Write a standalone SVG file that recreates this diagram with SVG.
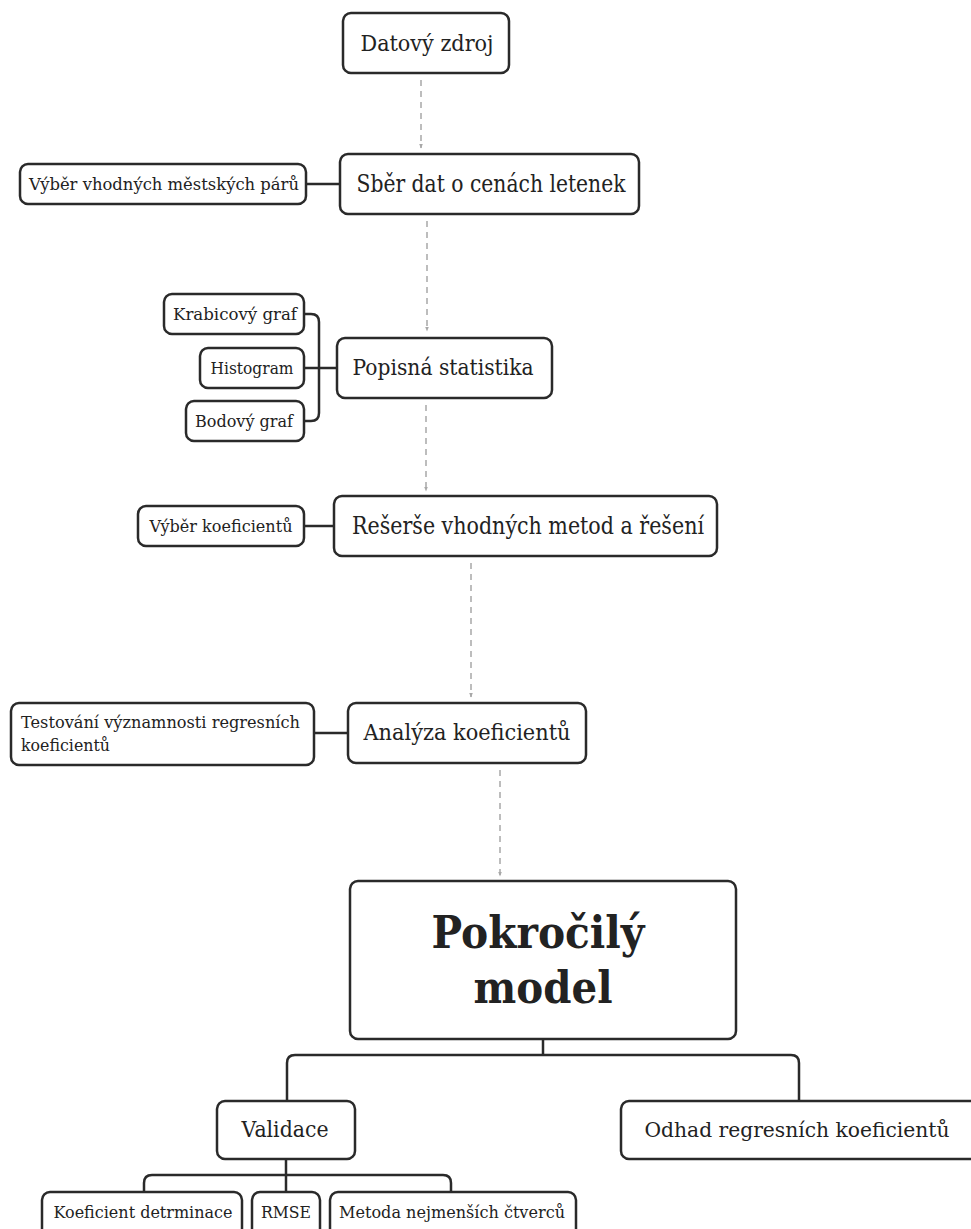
<svg xmlns="http://www.w3.org/2000/svg" width="971" height="1229" viewBox="0 0 971 1229">
<defs>
<marker id="ah" viewBox="0 0 10 10" refX="9" refY="5" markerWidth="5" markerHeight="5" orient="auto" markerUnits="userSpaceOnUse">
<path d="M0,1 L10,5 L0,9 z" fill="#a8a8a8"/>
</marker>
<style>
.box{fill:#fff;stroke:#2a2a2a;stroke-width:2.5}
.t{font-family:"DejaVu Serif","Liberation Serif",serif;fill:#222;text-anchor:middle}
.tl{font-family:"DejaVu Serif","Liberation Serif",serif;fill:#222}
.b{font-weight:bold}
.dash{fill:none;stroke:#a8a8a8;stroke-width:1.5;stroke-dasharray:6 5}
.solid{fill:none;stroke:#2a2a2a;stroke-width:2.5}
</style>
</defs>
<rect width="971" height="1229" fill="#fff"/>
<g id="connectors">
<line class="dash" x1="421" y1="80" x2="421" y2="148" marker-end="url(#ah)"/>
<line class="dash" x1="427" y1="221" x2="427" y2="331" marker-end="url(#ah)"/>
<line class="dash" x1="426" y1="405" x2="426" y2="491" marker-end="url(#ah)"/>
<line class="dash" x1="471" y1="563" x2="471" y2="697" marker-end="url(#ah)"/>
<line class="dash" x1="500" y1="770" x2="500" y2="876" marker-end="url(#ah)"/>
<line class="solid" x1="306" y1="184" x2="340" y2="184"/>
<path class="solid" d="M304,314 H311 Q319,314 319,322 V413 Q319,421 311,421 H304"/>
<line class="solid" x1="304" y1="368" x2="337" y2="368"/>
<line class="solid" x1="304" y1="526" x2="334" y2="526"/>
<line class="solid" x1="314" y1="733" x2="348" y2="733"/>
<line class="solid" x1="543" y1="1039" x2="543" y2="1055"/>
<path class="solid" d="M287,1101 V1063 Q287,1055 295,1055 H791 Q799,1055 799,1063 V1101"/>
<line class="solid" x1="286" y1="1159" x2="286" y2="1192"/>
<path class="solid" d="M144,1192 V1183 Q144,1175 152,1175 H443 Q451,1175 451,1183 V1192"/>
</g>
<g id="n-datovy-zdroj">
<rect class="box" x="343" y="13" width="166" height="60" rx="8"/>
<text class="t" x="427" y="51" font-size="22" textLength="133" lengthAdjust="spacingAndGlyphs">Datový zdroj</text>
</g>
<g id="n-sber-dat">
<rect class="box" x="340" y="154" width="299" height="60" rx="8"/>
<text class="t" x="491" y="192" font-size="24" textLength="269" lengthAdjust="spacingAndGlyphs">Sběr dat o cenách letenek</text>
</g>
<g id="n-vyber-paru">
<rect class="box" x="20" y="164" width="286" height="40" rx="8"/>
<text class="t" x="164" y="190" font-size="17" textLength="270" lengthAdjust="spacingAndGlyphs">Výběr vhodných městských párů</text>
</g>
<g id="n-popisna">
<rect class="box" x="337" y="338" width="215" height="60" rx="8"/>
<text class="t" x="443" y="375" font-size="23" textLength="181" lengthAdjust="spacingAndGlyphs">Popisná statistika</text>
</g>
<g id="n-krabicovy">
<rect class="box" x="164" y="294" width="140" height="40" rx="8"/>
<text class="t" x="235" y="320" font-size="17" textLength="124" lengthAdjust="spacingAndGlyphs">Krabicový graf</text>
</g>
<g id="n-histogram">
<rect class="box" x="200" y="348" width="104" height="40" rx="8"/>
<text class="t" x="252" y="374" font-size="17" textLength="83" lengthAdjust="spacingAndGlyphs">Histogram</text>
</g>
<g id="n-bodovy">
<rect class="box" x="186" y="401" width="118" height="40" rx="8"/>
<text class="t" x="244" y="427" font-size="17" textLength="98" lengthAdjust="spacingAndGlyphs">Bodový graf</text>
</g>
<g id="n-reserse">
<rect class="box" x="334" y="496" width="383" height="60" rx="8"/>
<text class="t" x="528" y="534" font-size="24" textLength="352" lengthAdjust="spacingAndGlyphs">Rešerše vhodných metod a řešení</text>
</g>
<g id="n-vyber-koef">
<rect class="box" x="138" y="506" width="166" height="40" rx="8"/>
<text class="t" x="221" y="532" font-size="17" textLength="143" lengthAdjust="spacingAndGlyphs">Výběr koeficientů</text>
</g>
<g id="n-analyza">
<rect class="box" x="348" y="703" width="238" height="60" rx="8"/>
<text class="t" x="467" y="740" font-size="23" textLength="207" lengthAdjust="spacingAndGlyphs">Analýza koeficientů</text>
</g>
<g id="n-testovani">
<rect class="box" x="11" y="703" width="303" height="62" rx="8"/>
<text class="tl" x="21" y="728" font-size="17" textLength="279" lengthAdjust="spacingAndGlyphs">Testování významnosti regresních</text>
<text class="tl" x="21" y="751" font-size="17" textLength="89" lengthAdjust="spacingAndGlyphs">koeficientů</text>
</g>
<g id="n-pokrocily">
<rect class="box" x="350" y="881" width="386" height="158" rx="8"/>
<text class="t b" x="538" y="948" font-size="44" textLength="213" lengthAdjust="spacingAndGlyphs">Pokročilý</text>
<text class="t b" x="543" y="1003" font-size="44" textLength="139" lengthAdjust="spacingAndGlyphs">model</text>
</g>
<g id="n-validace">
<rect class="box" x="217" y="1101" width="138" height="58" rx="8"/>
<text class="t" x="285" y="1137" font-size="22" textLength="87" lengthAdjust="spacingAndGlyphs">Validace</text>
</g>
<g id="n-odhad">
<rect class="box" x="621" y="1101" width="360" height="58" rx="8"/>
<text class="t" x="797" y="1137" font-size="20" textLength="305" lengthAdjust="spacingAndGlyphs">Odhad regresních koeficientů</text>
</g>
<g id="n-koef-det">
<rect class="box" x="42" y="1192" width="200" height="50" rx="8"/>
<text class="t" x="143" y="1218" font-size="17" textLength="179" lengthAdjust="spacingAndGlyphs">Koeficient detrminace</text>
</g>
<g id="n-rmse">
<rect class="box" x="252" y="1192" width="68" height="50" rx="8"/>
<text class="t" x="286" y="1218" font-size="17" textLength="50" lengthAdjust="spacingAndGlyphs">RMSE</text>
</g>
<g id="n-metoda">
<rect class="box" x="330" y="1192" width="246" height="50" rx="8"/>
<text class="t" x="452" y="1218" font-size="17" textLength="226" lengthAdjust="spacingAndGlyphs">Metoda nejmenších čtverců</text>
</g>
</svg>
